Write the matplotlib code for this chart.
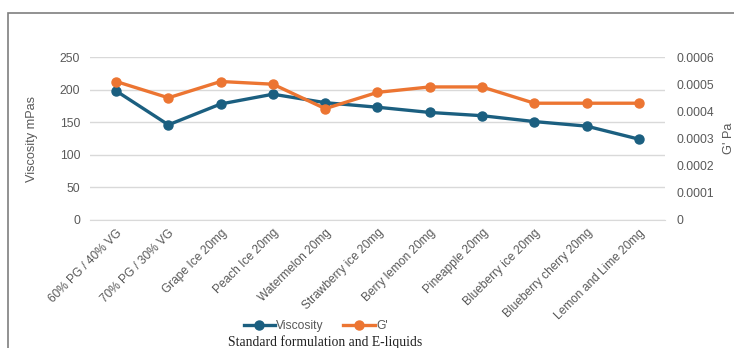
import matplotlib.pyplot as plt
from matplotlib.patches import Rectangle
from matplotlib.lines import Line2D

categories = ["60% PG / 40% VG", "70% PG / 30% VG", "Grape Ice 20mg", "Peach Ice 20mg",
              "Watermelon 20mg", "Strawberry ice 20mg", "Berry lemon 20mg", "Pineapple 20mg",
              "Blueberry ice 20mg", "Blueberry cherry 20mg", "Lemon and Lime 20mg"]
viscosity = [198, 146, 178, 193, 180, 173, 165, 160, 151, 144, 124]
g_prime = [0.00051, 0.00045, 0.00051, 0.0005, 0.00041, 0.00047, 0.00049, 0.00049,
           0.00043, 0.00043, 0.00043]

blue = "#1b5f80"
orange = "#ec7532"
txt = "#595959"

plt.rcParams['font.family'] = ['Liberation Sans', 'DejaVu Sans']

fig = plt.figure(figsize=(7.34, 3.48), dpi=100)
ax = fig.add_axes([0.1226, 0.368, 0.7834, 0.468])
ax2 = ax.twinx()

# outer frame, partly running off the canvas
fig.patches.append(Rectangle((8 / 734, -0.2), 1.2, 1 - 13 / 348 + 0.2,
                             transform=fig.transFigure, fill=False,
                             edgecolor="#7f7f7f", linewidth=1.2))

x = range(len(categories))
ax.plot(x, viscosity, color=blue, lw=2.4, marker='o', ms=6.5, zorder=3)
ax2.plot(x, g_prime, color=orange, lw=2.4, marker='o', ms=6.5, zorder=3)

ax.set_xlim(-0.5, len(categories) - 0.5)
ax.set_ylim(0, 250)
ax2.set_ylim(0, 0.0006)
ax.set_yticks(range(0, 251, 50))
ax2.set_yticks([0, 0.0001, 0.0002, 0.0003, 0.0004, 0.0005, 0.0006])
ax2.set_yticklabels(["0", "0.0001", "0.0002", "0.0003", "0.0004", "0.0005", "0.0006"])

ax.grid(axis='y', color="#d9d9d9", lw=1)
ax.set_axisbelow(True)
for a in (ax, ax2):
    for s in a.spines.values():
        s.set_visible(False)
    a.tick_params(length=0, labelsize=8.7, colors=txt)
ax.tick_params(axis='y', pad=7)
ax2.tick_params(axis='y', pad=8.5)
ax.spines['bottom'].set_visible(True)
ax.spines['bottom'].set_color("#d9d9d9")

ax.set_xticks(list(x))
ax.set_xticklabels(categories, rotation=45, ha='right', rotation_mode='anchor', fontsize=8.6)
ax.tick_params(axis='x', pad=5)

ax.set_ylabel("Viscosity mPas", fontsize=9.2, color=txt)
ax.yaxis.set_label_coords(-0.09, 0.5)
ax2.set_ylabel("G' Pa", fontsize=9.2, color=txt)
ax2.yaxis.set_label_coords(1.1, 0.5)

handles = [Line2D([], [], color=blue, lw=2.4, marker='o', ms=6.5),
           Line2D([], [], color=orange, lw=2.4, marker='o', ms=6.5)]
fig.legend(handles, ["Viscosity", "G'"], loc='center', bbox_to_anchor=(0.43, 1 - 326 / 348),
           ncol=2, frameon=False, fontsize=8.7, handlelength=2.6, handletextpad=0.1,
           columnspacing=1.6, labelcolor=txt)
fig.text(0.443, 1 - 342 / 348, "Standard formulation and E-liquids", ha='center', va='center',
         fontsize=9.8, family='Liberation Serif', color="#222222")

fig.savefig("out.png", dpi=100)
